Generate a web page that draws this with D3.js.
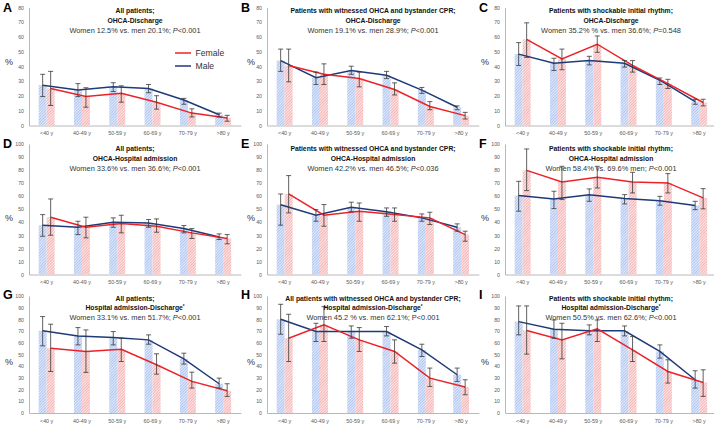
<!DOCTYPE html>
<html><head><meta charset="utf-8">
<script src="https://cdn.jsdelivr.net/npm/d3@7"></script>
<style>body{margin:0;background:#fff}svg{display:block}text{font-family:"Liberation Sans",Arial,sans-serif}</style>
</head><body><svg id="c" width="714" height="427"></svg>
<script>
const ageGroups = ["<40 y","40-49 y","50-59 y","60-69 y","70-79 y",">80 y"];
const legendNames = ["Female","Male"];
const panelLetters = ["A","B","C","D","E","F","G","H","I"];
const titleLine1 = ["All patients;","Patients with witnessed OHCA and bystander CPR;","Patients with shockable initial rhythm;",
  "All patients;","Patients with witnessed OHCA and bystander CPR;","Patients with shockable initial rhythm;",
  "All patients;","All patients with witnessed OHCA and bystander CPR;","Patients with shockable initial rhythm;"];
const titleLine2 = ["OHCA-Discharge","OHCA-Discharge","OHCA-Discharge",
  "OHCA-Hospital admission","OHCA-Hospital admission","OHCA-Hospital admission",
  "Hospital admission-Discharge","Hospital admission-Discharge","Hospital admission-Discharge"];
const titleSup = ["","","","","","","*","*","*"];
const statsPre = ["Women 12.5% vs. men 20.1%; ","Women 19.1% vs. men 28.9%; ","Women 35.2% % vs. men 36.6%; ",
  "Women 33.6% vs. men 36.6%; ","Women 42.2% vs. men 46.5%; ","Women 58.4% vs. 69.6% men; ",
  "Women 33.1% vs. men 51.7%; ","Women 45.2 % vs. men 62.1%; ","Women 50.5% vs. men 62.6%; "];
const statsP = ["P<0.001","P<0.001","P=0.548","P<0.001","P<0.036","P<0.001","P<0.001","P<0.001","P<0.001"];
const rowTicks = [[0,10,20,30,40,50,60,70,80],[0,10,20,30,40,50,60,70,80,90,100],[0,10,20,30,40,50,60,70,80,90,100]];

const A_male = [27.3, 24.0, 26.2, 25.1, 17.3, 7.3];
const A_maleCI = [[19.6,34.7],[19.6,28.4],[23,29],[22.2,27.8],[14.4,18.4],[5.8,8.4]];
const A_female = [25.1, 19.6, 21.8, 15.8, 8.4, 5.1];
const A_femaleCI = [[13.6,36.7],[12.4,25.6],[15.8,26.9],[11.1,20.2],[5.8,11.3],[2.9,6.9]];

const B_male = [44, 32.4, 37.3, 34, 24, 12.4];
const B_maleCI = [[36.7,51.8],[27.8,36.2],[34.7,40.2],[31.8,36.7],[21.8,25.8],[10.7,13.3]];
const B_female = [40.7, 34.7, 31.8, 24.4, 12.9, 6.7];
const B_femaleCI = [[29.6,51.8],[27.8,41.8],[26.2,36.2],[20.7,28.9],[10.7,16.2],[4.4,8.9]];

const C_male = [48.4, 42.2, 44, 42.2, 30.7, 16.2];
const C_maleCI = [[40.7,56.2],[37.3,45.6],[41.1,46.9],[39.6,44],[27.8,32.2],[14.4,17.8]];
const C_female = [58.4, 45.1, 55.1, 40.7, 28.4, 15.6];
const C_femaleCI = [[46.2,69.6],[37.8,51.8],[49.6,60.7],[36.2,44],[25.1,31.3],[13.3,17.8]];

const D_male = [37.8, 36.2, 40, 39.5, 35.2, 28.8];
const D_maleCI = [[29.3,45.9],[30.6,40.8],[36.2,43.4],[36.2,42.1],[31.9,37.5],[26.8,31.1]];
const D_female = [43.9, 36.2, 39, 37, 31.9, 27.6];
const D_femaleCI = [[30.1,57.9],[28.1,43.9],[31.9,45.4],[32.4,42.6],[27.6,35.2],[23.5,30.6]];

const E_male = [53.5, 45.4, 51.5, 48, 43.4, 36.2];
const E_maleCI = [[37.8,61.7],[40.8,49.7],[48,55.4],[44.6,51],[40.8,46.4],[33.2,38.8]];
const E_female = [61.7, 45.4, 48.5, 45.9, 43.4, 30.6];
const E_femaleCI = [[47.2,75.8],[37,53.6],[40.8,54.8],[40.8,51],[38.3,47.7],[25.5,33.2]];

const F_male = [60.5, 57.9, 61.2, 58.2, 56.6, 52.8];
const F_maleCI = [[48.5,71.4],[50.5,63.8],[56.1,65.6],[54.1,61.2],[53.1,59.9],[49.7,56.1]];
const F_female = [79.8, 70.9, 74.5, 70.9, 70.2, 58.7];
const F_femaleCI = [[64.3,96.2],[57.4,82.9],[66.3,82.9],[62.5,78.3],[62.5,77.3],[50.3,65.8]];

const G_male = [70.2, 65.9, 64.5, 62.5, 46.3, 25];
const G_maleCI = [[57.4,82.4],[58.2,73],[58.2,69.6],[58.8,66.8],[41.8,51.1],[21.3,29.8]];
const G_female = [55.4, 52.6, 54.5, 41.2, 27, 19];
const G_femaleCI = [[35.5,75.9],[34.7,71],[44,63.9],[33.2,50.6],[21.3,34.9],[14.2,25]];

const H_male = [80.1, 69.6, 69.6, 69.6, 54, 32.7];
const H_maleCI = [[67.3,92.9],[61.1,76.7],[63.9,74.4],[65.9,73.9],[48.3,58.8],[27,38.4]];
const H_female = [63.9, 75.3, 62.5, 52.6, 29.8, 22.2];
const H_femaleCI = [[44,84.4],[61.1,90.9],[52.6,73],[42.6,62.5],[22.7,38.4],[15.6,28.4]];

const I_male = [78.1, 71.6, 70.2, 70.2, 52.6, 28.4];
const I_maleCI = [[66.8,91.5],[63.9,79.5],[66.8,75.3],[65.9,74.4],[46.9,58.2],[21.3,36.1]];
const I_female = [70.5, 62.5, 71.9, 54, 35.5, 26.1];
const I_femaleCI = [[50.3,91.5],[46.3,76.7],[61.1,79.5],[44,65.3],[25.6,45.5],[14.2,36.9]];

const maleSeries = [A_male,B_male,C_male,D_male,E_male,F_male,G_male,H_male,I_male];
const maleCIs = [A_maleCI,B_maleCI,C_maleCI,D_maleCI,E_maleCI,F_maleCI,G_maleCI,H_maleCI,I_maleCI];
const femaleSeries = [A_female,B_female,C_female,D_female,E_female,F_female,G_female,H_female,I_female];
const femaleCIs = [A_femaleCI,B_femaleCI,C_femaleCI,D_femaleCI,E_femaleCI,F_femaleCI,G_femaleCI,H_femaleCI,I_femaleCI];

// layout
const colX = [0, 238, 476];
const rowY0 = [125.5, 274.5, 413];
const rowYTop = [7.5, 144, 296];
const rowMax = [80, 100, 100];
const rowTitleY = [[12.5,22.5,32.5],[150.5,160.5,170.5],[300.5,310,319.5]];
const rowPctY = [65, 221, 365];
const rowLetterY = [12, 148, 299];
const MALE_LINE = "#1f3a78", FEMALE_LINE = "#ec2228";

const svg = d3.select("#c");
const defs = svg.append("defs");
function hatch(id, base, line){
  const p = defs.append("pattern").attr("id",id).attr("patternUnits","userSpaceOnUse")
    .attr("width",2).attr("height",2).attr("patternTransform","rotate(45)");
  p.append("rect").attr("width",2).attr("height",2).attr("fill",base);
  p.append("rect").attr("width",1).attr("height",2).attr("fill",line);
}
hatch("hM","#e3ebfb","#b0c5f1");
hatch("hF","#fde8e8","#f5b3b3");

for (let i = 0; i < 9; i++) {
  const col = i % 3, row = Math.floor(i / 3);
  const ox = colX[col];
  const g = svg.append("g");
  const x = d3.scaleBand().domain(ageGroups).range([ox + 29, ox + 240.8]);
  const y = d3.scaleLinear().domain([0, rowMax[row]]).range([rowY0[row], rowYTop[row]]);
  const bw = 8;
  const cx = d => x(d) + x.bandwidth() / 2;

  // axes
  const ya = g.append("g").attr("transform", `translate(${ox + 29},0)`)
    .call(d3.axisLeft(y).tickValues(rowTicks[row]).tickSize(0).tickPadding(5));
  ya.select(".domain").attr("stroke", "#a6a6a6").attr("stroke-width", 0.8);
  ya.selectAll("text").attr("font-size", 5.2).attr("fill", "#595959");
  const xa = g.append("g").attr("transform", `translate(0,${rowY0[row]})`)
    .call(d3.axisBottom(x).tickSize(0).tickPadding(6));
  xa.select(".domain").attr("stroke", "#a6a6a6").attr("stroke-width", 0.8);
  xa.selectAll("text").attr("font-size", 5.4).attr("fill", "#595959");

  const mv = maleSeries[i], fv = femaleSeries[i];
  // bars
  g.selectAll(".bm").data(ageGroups).join("rect")
    .attr("x", d => cx(d) - bw).attr("width", bw)
    .attr("y", (d, k) => y(mv[k])).attr("height", (d, k) => y(0) - y(mv[k]))
    .attr("fill", "url(#hM)");
  g.selectAll(".bf").data(ageGroups).join("rect")
    .attr("x", d => cx(d)).attr("width", bw)
    .attr("y", (d, k) => y(fv[k])).attr("height", (d, k) => y(0) - y(fv[k]))
    .attr("fill", "url(#hF)");

  // lines
  const lm = d3.line().x((v, k) => cx(ageGroups[k]) - bw / 2).y(v => y(v));
  const lf = d3.line().x((v, k) => cx(ageGroups[k]) + bw / 2).y(v => y(v));
  g.append("path").attr("d", lm(mv)).attr("fill", "none").attr("stroke", MALE_LINE).attr("stroke-width", 1.5);
  g.append("path").attr("d", lf(fv)).attr("fill", "none").attr("stroke", FEMALE_LINE).attr("stroke-width", 1.5);

  // error bars
  function errs(ci, off) {
    ci.forEach((c, k) => {
      const xx = cx(ageGroups[k]) + off;
      const e = g.append("g").attr("stroke", "#3a3a3a").attr("stroke-width", 0.8);
      e.append("line").attr("x1", xx).attr("x2", xx).attr("y1", y(c[0])).attr("y2", y(c[1]));
      e.append("line").attr("x1", xx - 2.5).attr("x2", xx + 2.5).attr("y1", y(c[0])).attr("y2", y(c[0]));
      e.append("line").attr("x1", xx - 2.5).attr("x2", xx + 2.5).attr("y1", y(c[1])).attr("y2", y(c[1]));
    });
  }
  errs(maleCIs[i], -bw / 2);
  errs(femaleCIs[i], bw / 2);

  // titles
  const tx = ox + 135;
  const ty = rowTitleY[row];
  g.append("text").attr("x", tx).attr("y", ty[0]).attr("text-anchor", "middle")
    .attr("font-size", 6.8).attr("font-weight", "bold").attr("fill", "#111").text(titleLine1[i]);
  const t2 = g.append("text").attr("x", tx).attr("y", ty[1]).attr("text-anchor", "middle")
    .attr("font-size", 6.8).attr("font-weight", "bold").attr("fill", "#111");
  t2.append("tspan").text(titleLine2[i]);
  if (titleSup[i]) t2.append("tspan").attr("font-size", 4.5).attr("dy", -2.5).text(titleSup[i]);
  const t3 = g.append("text").attr("x", tx).attr("y", ty[2]).attr("text-anchor", "middle")
    .attr("font-size", 7.4).attr("fill", "#333");
  t3.append("tspan").text(statsPre[i]);
  t3.append("tspan").attr("font-style", i === 7 ? "normal" : "italic").text(statsP[i][0]);
  t3.append("tspan").text(statsP[i].slice(1));

  // % label
  g.append("text").attr("x", ox + (col === 1 ? 13 : 9)).attr("y", rowPctY[row]).attr("text-anchor", "middle")
    .attr("font-size", 9).attr("fill", "#333").text("%");
  // panel letter
  g.append("text").attr("x", ox + 3).attr("y", rowLetterY[row]).attr("font-size", 12.5)
    .attr("font-weight", "bold").attr("fill", "#000").text(panelLetters[i]);
}

// legend (panel A)
const lg = svg.append("g");
const legendColors = [FEMALE_LINE, MALE_LINE];
legendNames.forEach((n, k) => {
  const yy = 53 + k * 13;
  lg.append("line").attr("x1", 175).attr("x2", 191).attr("y1", yy).attr("y2", yy)
    .attr("stroke", legendColors[k]).attr("stroke-width", 1.5);
  lg.append("text").attr("x", 195.5).attr("y", yy + 3).attr("font-size", 8.6).attr("fill", "#333").text(n);
});
</script></body></html>
